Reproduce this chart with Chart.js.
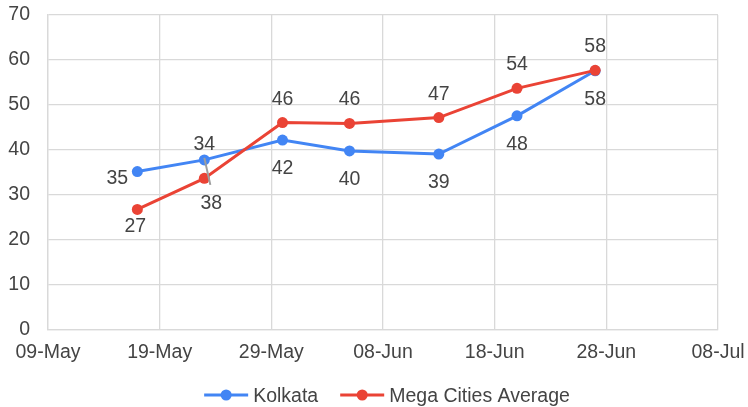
<!DOCTYPE html>
<html>
<head>
<meta charset="utf-8">
<script src="https://cdn.jsdelivr.net/npm/chart.js@4/dist/chart.umd.min.js"></script>
<style>
html,body{margin:0;padding:0;background:#fff;}
#wrap{width:748px;height:407px;}
</style>
</head>
<body>
<div id="wrap"><canvas id="c" width="748" height="407"></canvas></div>
<script>
// ---- data ----
const dates = ['2020-05-17','2020-05-23','2020-05-30','2020-06-05','2020-06-13','2020-06-20','2020-06-27'];
const kolkata = [35.2, 37.8, 42.2, 39.8, 39.1, 47.6, 57.6];
const megaCities = [26.8, 33.7, 46.1, 45.9, 47.2, 53.7, 57.7];
const seriesNames = ['Kolkata', 'Mega Cities Average'];
const xStart = '2020-05-09';
const xEnd = '2020-07-08';
const yTicks = [0, 10, 20, 30, 40, 50, 60, 70];
const months = ['Jan','Feb','Mar','Apr','May','Jun','Jul','Aug','Sep','Oct','Nov','Dec'];

const DAY = 86400000;
function toDay(s){ const p = s.split('-').map(Number); return Date.UTC(p[0], p[1]-1, p[2]) / DAY; }
function fmtDay(d){ const dt = new Date(d*DAY); return String(dt.getUTCDate()).padStart(2,'0') + '-' + months[dt.getUTCMonth()]; }

const FONT = '"Liberation Sans", Arial, sans-serif';
const FS = 19.5;
const TXT = '#444444';
const GRID = '#d9d9d9';
const BLUE = '#4285f4';
const RED = '#ea4335';

// plot area box (layout)
const AREA = {left: 48, top: 15, right: 718, bottom: 330};

const mk = (vals) => dates.map((d, i) => ({x: toDay(d), y: vals[i]}));

// data labels
function labelOffset(ds, i){
  if (ds === 0){
    if (i === 0) return {dx:-20, dy:5};
    if (i === 1) return {dx:7, dy:42, leader:true};
    return {dx:0, dy:27};
  } else {
    if (i === 0) return {dx:-2, dy:16};
    if (i === 1) return {dx:0, dy:-35.6};
    return {dx:0, dy:-25};
  }
}

const areaPlugin = {
  id: 'fixArea',
  afterLayout(chart){
    const ca = chart.chartArea;
    ca.left = AREA.left; ca.top = AREA.top; ca.right = AREA.right; ca.bottom = AREA.bottom;
    ca.width = AREA.right - AREA.left; ca.height = AREA.bottom - AREA.top;
    const x = chart.scales.x, y = chart.scales.y;
    x.left = AREA.left; x.right = AREA.right; x.width = ca.width;
    x.top = AREA.bottom; x.bottom = chart.height; x.height = chart.height - AREA.bottom;
    y.left = 0; y.right = AREA.left; y.width = AREA.left;
    y.top = AREA.top; y.bottom = AREA.bottom; y.height = ca.height;
    x.configure(); y.configure();
  }
};

const labelPlugin = {
  id: 'vlabels',
  afterDatasetsDraw(chart){
    const ctx = chart.ctx;
    ctx.save();
    ctx.font = FS + 'px ' + FONT;
    ctx.textAlign = 'center';
    ctx.textBaseline = 'alphabetic';
    chart.data.datasets.forEach((ds, di) => {
      const meta = chart.getDatasetMeta(di);
      meta.data.forEach((pt, i) => {
        const o = labelOffset(di, i);
        const cx = pt.x + o.dx, cy = pt.y + o.dy;
        if (o.leader){
          ctx.strokeStyle = '#9e9e9e';
          ctx.lineWidth = 2;
          ctx.beginPath();
          ctx.moveTo(pt.x, pt.y - 2);
          ctx.lineTo(cx - 1, cy - 17);
          ctx.stroke();
        }
        ctx.fillStyle = TXT;
        ctx.fillText(String(Math.round(ds.data[i].y)), cx, cy + 0.716*FS/2);
      });
    });
    ctx.restore();
  }
};

const legendPlugin = {
  id: 'customLegend',
  afterDraw(chart){
    const ctx = chart.ctx;
    const ca = chart.chartArea;
    ctx.save();
    ctx.font = FS + 'px ' + FONT;
    const lineLen = 44, gapTxt = 5, gapItem = 22;
    const items = chart.data.datasets.map(ds => ({label: ds.label, color: ds.borderColor, w: ctx.measureText(ds.label).width}));
    let total = 0;
    items.forEach((it, k) => { total += lineLen + gapTxt + it.w + (k < items.length-1 ? gapItem : 0); });
    let x = (ca.left + ca.right)/2 - total/2 + 4;
    const y = 395;
    items.forEach(it => {
      ctx.strokeStyle = it.color;
      ctx.lineWidth = 3;
      ctx.beginPath();
      ctx.moveTo(x, y); ctx.lineTo(x + lineLen, y); ctx.stroke();
      ctx.fillStyle = it.color;
      ctx.beginPath(); ctx.arc(x + lineLen/2, y, 5.5, 0, Math.PI*2); ctx.fill();
      ctx.fillStyle = TXT;
      ctx.textAlign = 'left';
      ctx.textBaseline = 'alphabetic';
      ctx.fillText(it.label, x + lineLen + gapTxt, y + 0.716*FS/2);
      x += lineLen + gapTxt + it.w + gapItem;
    });
    ctx.restore();
  }
};

new Chart(document.getElementById('c'), {
  type: 'line',
  data: {
    datasets: [
      {label: seriesNames[0], data: mk(kolkata), borderColor: BLUE, backgroundColor: BLUE,
       borderWidth: 3, pointRadius: 5.5, pointHoverRadius: 5.5, pointBorderWidth: 0, tension: 0, order: 1},
      {label: seriesNames[1], data: mk(megaCities), borderColor: RED, backgroundColor: RED,
       borderWidth: 3, pointRadius: 5.5, pointHoverRadius: 5.5, pointBorderWidth: 0, tension: 0, order: 0}
    ]
  },
  options: {
    responsive: false,
    animation: false,
    events: [],
    layout: {padding: {top: 15, right: 22, left: 0, bottom: 0}},
    plugins: {legend: {display: false}, tooltip: {enabled: false}},
    scales: {
      x: {
        type: 'linear',
        min: toDay(xStart), max: toDay(xEnd),
        afterBuildTicks(scale){
          const t = []; for (let d = toDay(xStart); d <= toDay(xEnd); d += 10) t.push({value: d}); scale.ticks = t;
        },
        afterFit(scale){ scale.height = 77; },
        grid: {color: GRID, lineWidth: 1.3, drawTicks: false},
        border: {color: GRID, width: 1.3},
        ticks: {padding: 11, color: TXT, font: {family: FONT, size: FS}, maxRotation: 0, autoSkip: false,
                callback: (v) => fmtDay(v)}
      },
      y: {
        min: yTicks[0], max: yTicks[yTicks.length-1],
        afterBuildTicks(scale){ scale.ticks = yTicks.map(v => ({value: v})); },
        afterFit(scale){ scale.width = 48; },
        grid: {color: GRID, lineWidth: 1.3, drawTicks: false},
        border: {color: GRID, width: 1.3},
        ticks: {padding: 18, color: TXT, font: {family: FONT, size: FS}}
      }
    }
  },
  plugins: [areaPlugin, labelPlugin, legendPlugin]
});
</script>
</body>
</html>
